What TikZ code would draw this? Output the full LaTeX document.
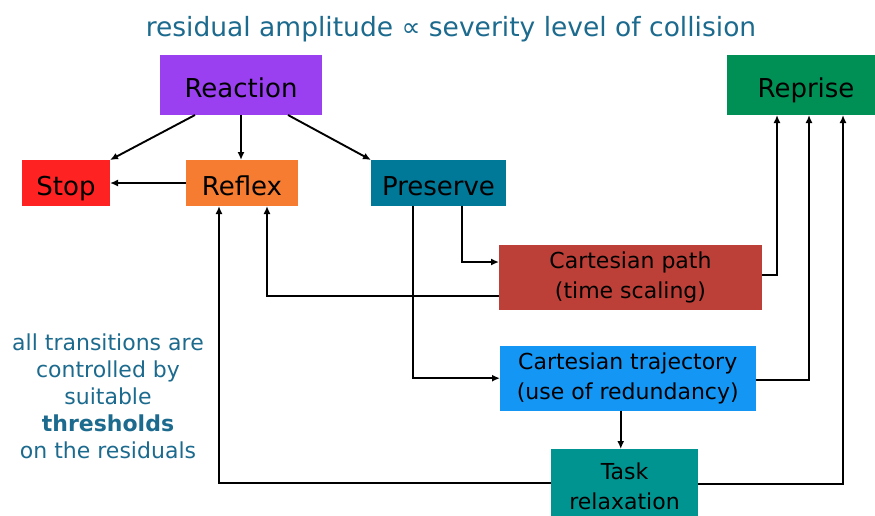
\documentclass[tikz,border=0pt]{standalone}
\usepackage{fontspec}
\setmainfont{DejaVu Sans}
\usetikzlibrary{arrows.meta}
\definecolor{txtblue}{HTML}{1C6A8D}
\definecolor{cpurple}{HTML}{9B40F0}
\definecolor{cgreen}{HTML}{009055}
\definecolor{cred}{HTML}{FF2222}
\definecolor{corange}{HTML}{F57C30}
\definecolor{cteal}{HTML}{007898}
\definecolor{cbrick}{HTML}{BC4038}
\definecolor{cblue}{HTML}{1496F4}
\definecolor{ctask}{HTML}{009490}
\tikzset{
  box/.style={inner sep=0pt, outer sep=0pt, align=center, text=black},
  bigtxt/.style={font=\fontsize{26}{30}\selectfont, text height=25pt, text depth=0pt},
  smalltxt/.style={font=\fontsize{22}{30}\selectfont},
  arr/.style={line width=1.9pt, -{Latex[length=8pt,width=7pt]}},
}
\begin{document}
\begin{tikzpicture}[x=1pt,y=-1pt]
\useasboundingbox (0,0) rectangle (875,515);
\node[text=txtblue, font=\fontsize{26.5}{30}\selectfont] (title) at (451,29) {residual amplitude ∝ severity level of collision};
\node[box, bigtxt, fill=cpurple, minimum width=162pt, minimum height=60pt] (Reaction) at (241,85) {Reaction};
\node[box, bigtxt, fill=cgreen, minimum width=159pt, minimum height=60pt] (Reprise) at (806,85) {Reprise};
\node[box, bigtxt, fill=cred, minimum width=88pt, minimum height=46pt] (Stop) at (66,183) {Stop};
\node[box, bigtxt, fill=corange, minimum width=112pt, minimum height=46pt] (Reflex) at (242,183) {Reflex};
\node[box, bigtxt, fill=cteal, minimum width=135pt, minimum height=46pt] (Preserve) at (438.5,183) {Preserve};
\node[box, smalltxt, fill=cbrick, minimum width=263pt, minimum height=65pt] (Cpath) at (630.5,277.5) {Cartesian path\\(time scaling)};
\node[box, smalltxt, fill=cblue, minimum width=255.5pt, minimum height=65pt] (Ctraj) at (627.75,378.2) {Cartesian trajectory\\(use of redundancy)};
\node[box, smalltxt, fill=ctask, minimum width=147pt, minimum height=74pt] (Task) at (624.5,486) {Task\\relaxation};
\node[align=center, text=txtblue, font=\fontsize{22}{27}\selectfont] (note) at (108,396) {all transitions are\\controlled by\\suitable\\\textbf{thresholds}\\on the residuals};
% connectors
\draw[arr] ([xshift=-46pt]Reaction.south) -- (Stop.north east);
\draw[arr] (Reaction.south) -- (Reaction.south |- Reflex.north);
\draw[arr] ([xshift=47pt]Reaction.south) -- (Preserve.north west);
\draw[arr] (Reflex.west) -- (Stop.east);
\draw[arr] ([xshift=23.5pt]Preserve.south) |- ([yshift=15.5pt]Cpath.west);
\draw[arr] ([xshift=-25.5pt]Preserve.south) |- (Ctraj.west);
\draw[arr] ([yshift=-18.5pt]Cpath.west) -| ([xshift=25pt]Reflex.south);
\draw[arr] ([yshift=2.5pt]Cpath.east) -| ([xshift=-29pt]Reprise.south);
\draw[arr] ([yshift=-2pt]Ctraj.east) -| ([xshift=3pt]Reprise.south);
\draw[arr] ([xshift=-7pt]Ctraj.south) -- ([xshift=-7pt]Ctraj.south |- Task.north);
\draw[arr] ([yshift=3pt]Task.west) -| ([xshift=-23pt]Reflex.south);
\draw[arr] ([yshift=2pt]Task.east) -| ([xshift=37pt]Reprise.south);
\end{tikzpicture}
\end{document}
